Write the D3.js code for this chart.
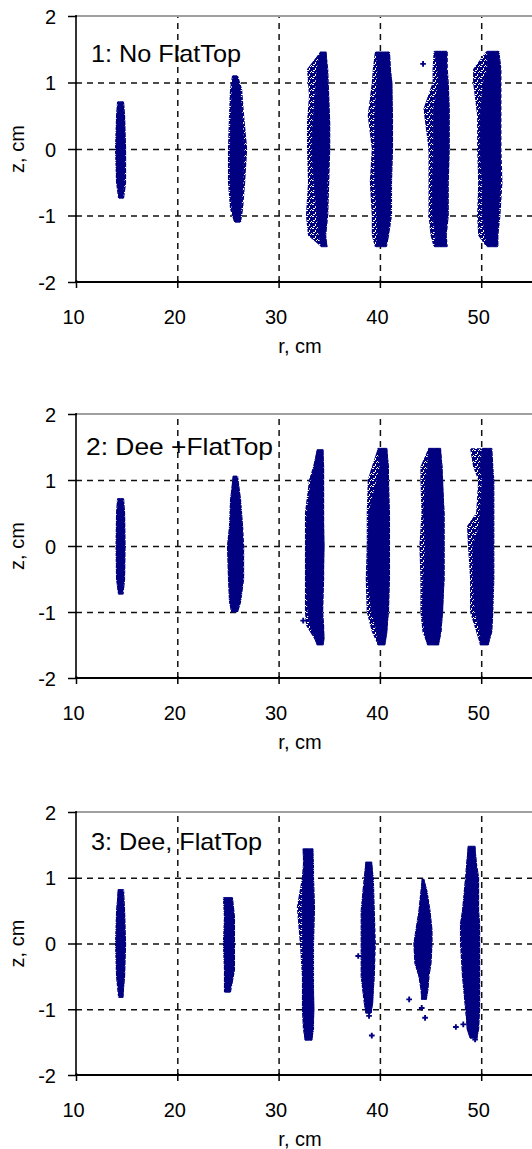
<!DOCTYPE html>
<html>
<head>
<meta charset="utf-8">
<script src="https://cdn.jsdelivr.net/npm/d3@7"></script>
<style>
  body { margin: 0; background: #fff; }
  svg { display: block; }
  text { font-family: "Liberation Sans", Arial, sans-serif; fill: #000; }
</style>
</head>
<body>
<svg id="chart" width="532" height="1149"></svg>
<script>
// ---- data -------------------------------------------------------------
const rTicks = [10, 20, 30, 40, 50];
const rGrid = [20, 30, 40, 50, 60];
const zTicks = [-2, -1, 0, 1, 2];
const zGrid = [-1, 0, 1];
const panelTitles = ["1: No FlatTop", "2: Dee +FlatTop", "3: Dee, FlatTop"];

// Each bunch is a vertical profile of one particle bunch:
// [z, outer left r, dense left r, dense right r, outer right r]  (cm)
const bunches1 = [
  [[0.71,14.05,14.15,14.65,14.75],[0.5,13.95,14.05,14.75,14.85],[0,13.85,13.95,14.85,14.95],[-0.5,13.95,14.05,14.75,14.95],[-0.74,14.15,14.25,14.65,14.75]],
  [[1.10,25.4,25.5,25.9,26.0],[0.9,25.2,25.4,26.2,26.4],[0.5,25.1,25.3,26.4,26.6],[0,25.0,25.2,26.6,26.9],[-0.5,25.0,25.2,26.5,26.7],[-0.9,25.2,25.4,26.3,26.5],[-1.10,25.6,25.7,26.2,26.3]],
  [[1.46,34.1,34.1,34.7,34.7],[1.2,32.8,33.8,34.8,34.9],[0.8,33.0,33.6,34.9,35.0],[0.4,32.8,33.4,35.0,35.1],[0,32.8,33.3,35.0,35.1],[-0.5,32.9,33.5,34.8,35.0],[-1.0,32.7,33.8,34.8,34.9],[-1.3,32.9,34.0,34.6,34.7],[-1.47,34.2,34.2,34.8,34.8]],
  [[1.46,39.5,39.6,40.9,41.0],[1.2,39.3,39.8,41.0,41.1],[1.0,39.2,39.7,41.2,41.2],[0.5,38.8,39.5,41.2,41.3],[0,39.2,39.5,41.2,41.3],[-0.5,39.0,39.5,41.1,41.2],[-1.0,39.2,39.7,41.0,41.2],[-1.3,39.2,39.8,40.8,40.9],[-1.47,39.5,39.6,40.6,40.7]],
  [[1.47,45.3,45.4,46.6,46.7],[1.2,45.2,45.7,46.6,46.7],[1.0,45.2,45.8,46.7,46.8],[0.6,44.3,45.3,46.8,46.9],[0,44.8,45.3,46.8,46.9],[-0.5,44.8,45.2,46.7,46.8],[-1.0,44.8,45.2,46.7,46.8],[-1.3,45.0,45.5,46.5,46.6],[-1.47,45.3,45.4,46.6,46.7]],
  [[1.47,50.5,50.6,51.7,51.8],[1.2,49.2,50.6,51.9,52.0],[1.0,49.2,50.2,51.9,52.0],[0.5,49.6,49.9,51.9,52.0],[0,49.6,49.9,51.9,52.0],[-0.5,49.7,50.1,51.9,52.1],[-1.0,49.6,50.1,51.7,51.9],[-1.3,49.7,50.4,51.6,51.7],[-1.47,50.5,50.6,51.6,51.7]]
];
const bunches2 = [
  [[0.72,14.05,14.15,14.65,14.75],[0.5,13.95,14.05,14.75,14.85],[0,13.9,14.0,14.8,14.9],[-0.5,13.95,14.05,14.75,14.85],[-0.73,14.15,14.2,14.6,14.7]],
  [[1.06,25.5,25.5,25.9,26.0],[0.7,25.2,25.3,26.2,26.3],[0.3,25.1,25.2,26.4,26.5],[0,24.9,25.0,26.5,26.6],[-0.5,25.0,25.1,26.5,26.6],[-0.85,25.1,25.2,26.2,26.3],[-1.0,25.3,25.4,25.9,26.0]],
  [[1.46,33.8,33.8,34.4,34.4],[1.2,33.4,33.5,34.4,34.5],[1.0,33.0,33.2,34.4,34.5],[0.5,32.6,32.8,34.4,34.5],[0,32.6,32.7,34.5,34.5],[-0.5,32.6,32.7,34.4,34.5],[-1.0,32.6,32.9,34.3,34.4],[-1.2,32.7,33.1,34.4,34.5],[-1.4,33.5,33.6,34.5,34.5],[-1.5,33.8,33.8,34.4,34.4]],
  [[1.48,39.8,39.8,40.7,40.7],[1.2,39.2,40.0,40.8,40.9],[1.0,38.8,39.7,40.8,40.9],[0.5,38.7,38.9,40.9,41.0],[0,38.7,38.8,40.9,41.0],[-0.5,38.6,38.8,40.9,41.0],[-1.0,38.7,39.2,40.8,40.9],[-1.3,39.2,39.7,40.7,40.7],[-1.5,39.8,39.8,40.5,40.5]],
  [[1.48,44.8,44.8,46.0,46.0],[1.2,44.0,44.7,46.1,46.2],[1.0,44.0,44.5,46.2,46.2],[0.5,44.1,44.3,46.3,46.4],[0,43.9,44.5,46.3,46.4],[-0.5,44.0,44.3,46.3,46.4],[-1.0,44.0,44.2,46.2,46.2],[-1.3,44.2,44.4,46.0,46.1],[-1.5,44.7,44.7,45.8,45.8]],
  [[1.48,48.9,50.1,51.0,51.1],[1.2,49.2,49.9,51.1,51.2],[1.0,49.7,50.1,51.2,51.3],[0.5,49.5,49.9,51.2,51.3],[0.3,48.6,49.8,51.2,51.3],[0,48.7,49.2,51.2,51.3],[-0.5,48.9,49.2,51.2,51.3],[-1.0,48.9,49.4,51.1,51.2],[-1.3,49.5,49.9,51.0,51.1],[-1.5,49.9,49.9,50.7,50.7]]
];
const bunches3 = [
  [[0.82,14.15,14.15,14.65,14.75],[0.5,13.95,14.05,14.75,14.85],[0,13.85,13.95,14.85,14.95],[-0.5,13.95,14.05,14.75,14.85],[-0.82,14.15,14.25,14.65,14.65]],
  [[0.7,24.5,24.6,25.4,25.5],[0.4,24.6,24.7,25.6,25.7],[0,24.5,24.6,25.6,25.7],[-0.4,24.6,24.7,25.6,25.7],[-0.74,24.6,24.7,25.2,25.3]],
  [[1.44,32.4,32.4,33.4,33.4],[1.2,32.4,32.5,33.4,33.5],[1.0,32.3,32.4,33.4,33.5],[0.55,31.8,32.3,33.5,33.6],[0,32.1,32.4,33.4,33.5],[-0.5,32.3,32.4,33.4,33.5],[-1.0,32.3,32.4,33.5,33.5],[-1.3,32.4,32.5,33.4,33.5],[-1.47,32.6,32.6,33.3,33.3]],
  [[1.24,38.6,38.6,39.2,39.2],[1.0,38.4,38.5,39.3,39.4],[0.5,38.1,38.2,39.4,39.5],[0,38.1,38.2,39.5,39.6],[-0.5,38.1,38.2,39.4,39.5],[-0.9,38.4,38.5,39.3,39.3],[-1.06,38.6,38.6,39.1,39.2]],
  [[0.98,44.15,44.15,44.35,44.35],[0.8,44.0,44.1,44.6,44.7],[0.5,43.8,43.9,44.9,45.0],[0.2,43.5,43.6,45.1,45.2],[0,43.3,43.4,45.1,45.2],[-0.3,43.4,43.5,45.0,45.1],[-0.5,43.8,43.9,44.8,44.9],[-0.7,44.0,44.1,44.7,44.8],[-0.85,44.1,44.1,44.6,44.6]],
  [[1.48,48.7,48.7,49.4,49.4],[1.2,48.5,48.6,49.5,49.6],[1.0,48.4,48.5,49.7,49.8],[0.5,48.1,48.2,49.7,49.8],[0.3,47.9,48.0,49.8,49.9],[0,47.9,48.1,49.8,49.9],[-0.5,48.1,48.2,49.8,49.9],[-1.0,48.4,48.5,49.8,49.9],[-1.3,48.6,48.6,49.7,49.8],[-1.44,48.9,48.9,49.6,49.6]]
];

// isolated particles lying outside the bunch profiles: [r, z]
const strays1 = [[44.26, 1.28]];
const strays2 = [[32.43, -1.13]];
const strays3 = [[37.86,-0.19],[38.93,-1.1],[39.2,-1.4],[42.89,-0.85],[44.13,-0.98],[44.46,-1.13],[47.5,-1.27],[48.23,-1.23],[49.4,-1.46]];

// ---- layout -----------------------------------------------------------
const NAVY = "#000080";
const plotLeft = 76, plotRight = 582.5;
const panels = [
  { top: 16,  height: 266, title: {x: 91, y: 62,  w: 150} },
  { top: 414, height: 264, title: {x: 86, y: 455, w: 187} },
  { top: 812, height: 263, title: {x: 91, y: 850, w: 171} }
];
const allBunches = [bunches1, bunches2, bunches3];
const allStrays = [strays1, strays2, strays3];

const svg = d3.select("#chart");
const defs = svg.append("defs");

// speckled fill for the sparse fringe of each bunch: navy with small gaps
const speckle = defs.append("pattern")
  .attr("id", "speckle").attr("patternUnits", "userSpaceOnUse")
  .attr("width", 6).attr("height", 6);
speckle.append("rect").attr("width", 6).attr("height", 6).attr("fill", NAVY);
[[0,0,2,1],[4,0,1,1],[3,2,1,2],[1,4,2,1],[5,5,1,1]].forEach(([hx, hy, hw, hh]) =>
  speckle.append("rect").attr("x", hx).attr("y", hy).attr("width", hw).attr("height", hh).attr("fill", "#fff"));

const x = d3.scaleLinear().domain([10, 60]).range([plotLeft, plotRight]);
const fmt = d => String(d);

panels.forEach((p, i) => {
  const bottom = p.top + p.height;
  const y = d3.scaleLinear().domain([-2, 2]).range([bottom, p.top]);
  const g = svg.append("g");

  defs.append("clipPath").attr("id", "plot" + i)
    .append("rect").attr("x", plotLeft).attr("y", p.top)
    .attr("width", plotRight - plotLeft).attr("height", p.height);

  // dashed grid
  const grid = g.append("g").attr("class", "grid");
  grid.append("g")
    .attr("transform", `translate(0,${bottom})`)
    .call(d3.axisBottom(x).tickValues(rGrid).tickSize(-p.height).tickFormat(""))
    .call(s => s.select(".domain").remove());
  grid.append("g")
    .attr("transform", `translate(${plotLeft},0)`)
    .call(d3.axisLeft(y).tickValues(zGrid).tickSize(-(plotRight - plotLeft)).tickFormat(""))
    .call(s => s.select(".domain").remove());
  grid.selectAll("line")
    .attr("stroke", "#111").attr("stroke-width", 1.5)
    .attr("stroke-dasharray", "6,5");

  // bunches
  const marks = g.append("g").attr("clip-path", `url(#plot${i})`);
  const fringe = d3.area().y(d => y(d[0])).x0(d => x(d[1])).x1(d => x(d[4]));
  const core = d3.area().y(d => y(d[0])).x0(d => x(d[2])).x1(d => x(d[3]));
  marks.selectAll("path.fringe").data(allBunches[i]).join("path")
    .attr("class", "fringe").attr("d", fringe)
    .attr("fill", "url(#speckle)");
  marks.selectAll("path.core").data(allBunches[i]).join("path")
    .attr("class", "core").attr("d", core)
    .attr("fill", NAVY).attr("stroke", NAVY).attr("stroke-width", 0.8);
  marks.selectAll("path.stray").data(allStrays[i]).join("path")
    .attr("class", "stray")
    .attr("transform", d => `translate(${x(d[0])},${y(d[1])})`)
    .attr("d", d3.symbol(d3.symbolCross, 18))
    .attr("fill", NAVY);

  // frame: grey top edge, black left and bottom axes
  g.append("line").attr("x1", plotLeft).attr("x2", plotRight)
    .attr("y1", p.top).attr("y2", p.top)
    .attr("stroke", "#a0a0a0").attr("stroke-width", 2);

  const yAxis = g.append("g")
    .attr("transform", `translate(${plotLeft},0)`)
    .call(d3.axisLeft(y).tickValues(zTicks).tickSize(8).tickPadding(12).tickFormat(fmt));
  yAxis.select(".domain").remove();
  yAxis.selectAll(".tick line").attr("x1", 1).attr("x2", -8).attr("stroke", "#000").attr("stroke-width", 1.5);
  yAxis.selectAll(".tick text").attr("font-size", 20).attr("dy", "0.35em")
    .style("font-family", '"Liberation Sans", Arial, sans-serif');

  const xAxis = g.append("g")
    .attr("transform", `translate(0,${bottom})`)
    .call(d3.axisBottom(x).tickValues(rTicks).tickSize(6).tickPadding(22).tickFormat(fmt));
  xAxis.select(".domain").remove();
  xAxis.selectAll(".tick line").attr("y1", -2).attr("y2", 6).attr("stroke", "#000").attr("stroke-width", 1.5);
  xAxis.selectAll(".tick text").attr("font-size", 20).attr("dx", -3)
    .style("font-family", '"Liberation Sans", Arial, sans-serif');

  g.append("line").attr("x1", plotLeft).attr("x2", plotLeft)
    .attr("y1", p.top - 1).attr("y2", bottom + 1)
    .attr("stroke", "#000").attr("stroke-width", 1.6);
  g.append("line").attr("x1", plotLeft - 1).attr("x2", plotRight)
    .attr("y1", bottom).attr("y2", bottom)
    .attr("stroke", "#000").attr("stroke-width", 2);

  // texts
  g.append("text").attr("x", p.title.x).attr("y", p.title.y)
    .attr("font-size", 24).attr("textLength", p.title.w).attr("lengthAdjust", "spacingAndGlyphs")
    .text(panelTitles[i]);
  g.append("text").attr("x", 300).attr("y", bottom + 71)
    .attr("font-size", 20).attr("text-anchor", "middle").text("r, cm");
  g.append("text")
    .attr("transform", `translate(24,${p.top + p.height / 2}) rotate(-90)`)
    .attr("font-size", 20).attr("text-anchor", "middle").text("z, cm");
});
</script>
</body>
</html>
